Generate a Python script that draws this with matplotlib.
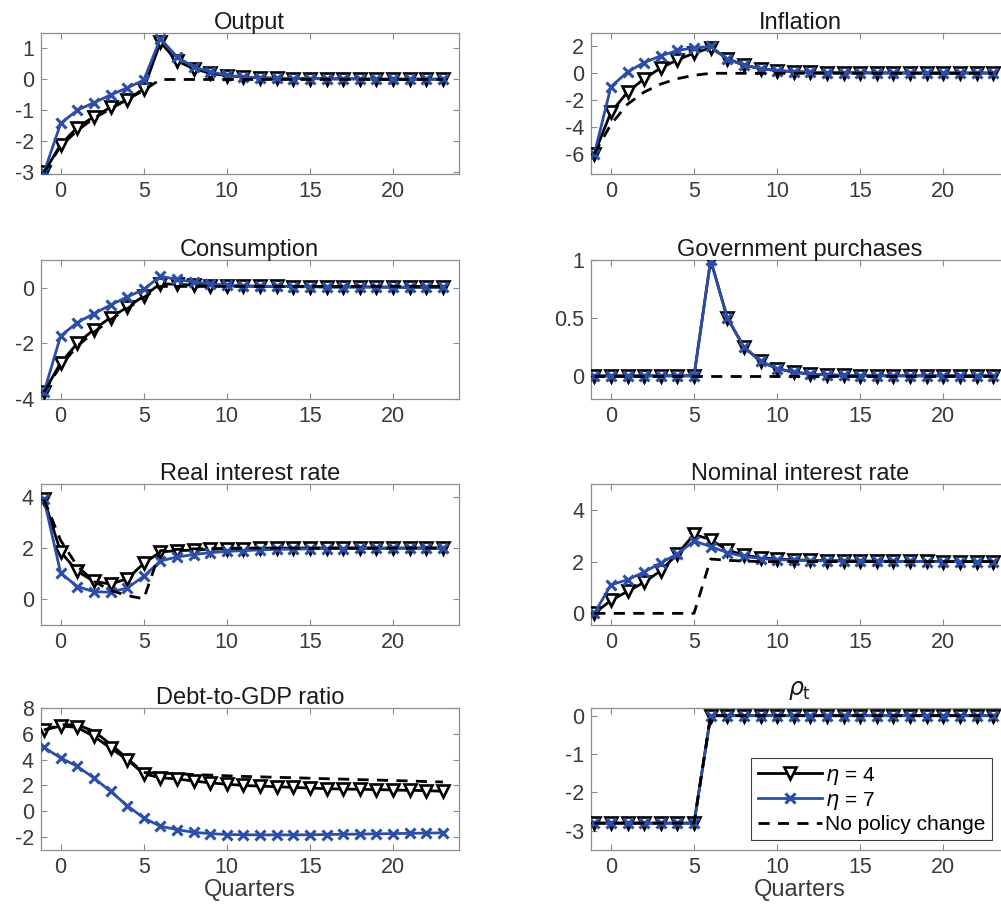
import matplotlib
matplotlib.use("Agg")
import matplotlib.pyplot as plt
from matplotlib.ticker import FormatStrFormatter

plt.rcParams['font.family'] = ['Liberation Sans', 'DejaVu Sans']
plt.rcParams['mathtext.fontset'] = 'dejavusans'

quarters = list(range(-1, 24))

# ---- data (eta=4, eta=7, no policy change) ----
output_e4 = [-3.0, -2.1, -1.55, -1.2, -0.9, -0.65, -0.3, 1.2, 0.6, 0.35, 0.2, 0.12, 0.08, 0.05, 0.04,
             0.03, 0.03, 0.02, 0.02, 0.02, 0.01, 0.01, 0.01, 0.01, 0.01]
output_e7 = [-3.0, -1.42, -0.99, -0.75, -0.5, -0.27, -0.02, 1.32, 0.73, 0.4, 0.25, 0.14, 0.08, 0.05, 0.04,
             0.03, 0.03, 0.02, 0.02, 0.02, 0.01, 0.01, 0.01, 0.01, 0.01]
output_np = [-3.0, -2.15, -1.65, -1.25, -0.95, -0.65, -0.35, 0.0, 0.0, 0.0, 0.0, 0.0, 0.0, 0.0, 0.0,
             0.0, 0.0, 0.0, 0.0, 0.0, 0.0, 0.0, 0.0, 0.0, 0.0]

infl_e4 = [-6.0, -2.9, -1.4, -0.4, 0.4, 1.0, 1.5, 1.9, 1.1, 0.6, 0.35, 0.2, 0.12, 0.08, 0.05,
           0.04, 0.03, 0.03, 0.02, 0.02, 0.02, 0.02, 0.02, 0.02, 0.02]
infl_e7 = [-6.0, -1.0, 0.1, 0.8, 1.3, 1.7, 1.9, 2.0, 1.05, 0.6, 0.35, 0.2, 0.12, 0.08, 0.05,
           0.04, 0.03, 0.03, 0.02, 0.02, 0.02, 0.02, 0.02, 0.02, 0.02]
infl_np = [-6.0, -3.8, -2.3, -1.4, -0.8, -0.4, -0.15, 0.0, 0.0, 0.0, 0.0, 0.0, 0.0, 0.0, 0.0,
           0.0, 0.0, 0.0, 0.0, 0.0, 0.0, 0.0, 0.0, 0.0, 0.0]

cons_e4 = [-3.75, -2.7, -2.0, -1.5, -1.07, -0.7, -0.3, 0.15, 0.12, 0.1, 0.08, 0.07, 0.06, 0.05, 0.05,
           0.04, 0.04, 0.03, 0.03, 0.03, 0.03, 0.02, 0.02, 0.02, 0.02]
cons_e7 = [-3.75, -1.73, -1.25, -0.93, -0.62, -0.33, -0.06, 0.42, 0.3, 0.21, 0.14, 0.1, 0.07, 0.06, 0.05,
           0.04, 0.04, 0.03, 0.03, 0.03, 0.03, 0.02, 0.02, 0.02, 0.02]
cons_np = [-3.75, -2.8, -2.1, -1.6, -1.15, -0.75, -0.35, 0.05, 0.05, 0.05, 0.05, 0.05, 0.05, 0.05, 0.05,
           0.05, 0.05, 0.05, 0.05, 0.05, 0.05, 0.05, 0.05, 0.05, 0.05]

gov_e4 = [0, 0, 0, 0, 0, 0, 0, 1.0, 0.5, 0.25, 0.125, 0.0625, 0.031, 0.016, 0.008,
          0.004, 0.002, 0.001, 0, 0, 0, 0, 0, 0, 0]
gov_e7 = [0, 0, 0, 0, 0, 0, 0, 1.0, 0.5, 0.25, 0.125, 0.0625, 0.031, 0.016, 0.008,
          0.004, 0.002, 0.001, 0, 0, 0, 0, 0, 0, 0]
gov_np = [0] * 25

real_e4 = [3.9, 1.85, 1.1, 0.7, 0.6, 0.8, 1.4, 1.85, 1.9, 1.92, 1.95, 1.97, 1.98, 1.99, 2.0,
           2.0, 2.0, 2.0, 2.0, 2.0, 2.0, 2.0, 2.0, 2.0, 2.0]
real_e7 = [3.9, 1.03, 0.5, 0.3, 0.28, 0.44, 0.9, 1.5, 1.65, 1.75, 1.82, 1.87, 1.9, 1.93, 1.95,
           1.96, 1.97, 1.98, 1.98, 1.99, 1.99, 1.99, 2.0, 2.0, 2.0]
real_np = [3.9, 2.3, 1.3, 0.7, 0.35, 0.15, 0.02, 1.9, 1.95, 1.97, 1.98, 1.99, 2.0, 2.0, 2.0,
           2.0, 2.0, 2.0, 2.0, 2.0, 2.0, 2.0, 2.0, 2.0, 2.0]

nom_e4 = [0.0, 0.5, 0.85, 1.2, 1.65, 2.3, 3.05, 2.85, 2.45, 2.25, 2.15, 2.1, 2.07, 2.05, 2.04,
          2.03, 2.02, 2.02, 2.01, 2.01, 2.01, 2.0, 2.0, 2.0, 2.0]
nom_e7 = [0.0, 1.1, 1.3, 1.6, 1.95, 2.3, 2.8, 2.58, 2.35, 2.2, 2.12, 2.08, 2.05, 2.04, 2.03,
          2.02, 2.02, 2.01, 2.01, 2.01, 2.0, 2.0, 2.0, 2.0, 2.0]
nom_np = [0.0, 0.0, 0.0, 0.0, 0.0, 0.0, 0.0, 2.1, 2.05, 2.02, 2.0, 2.0, 2.0, 2.0, 2.0,
          2.0, 2.0, 2.0, 2.0, 2.0, 2.0, 2.0, 2.0, 2.0, 2.0]

debt_e4 = [6.3, 6.6, 6.5, 5.8, 4.9, 4.0, 2.9, 2.6, 2.5, 2.35, 2.2, 2.1, 2.0, 1.95, 1.9,
           1.85, 1.8, 1.75, 1.72, 1.7, 1.68, 1.65, 1.62, 1.6, 1.55]
debt_e7 = [4.95, 4.13, 3.48, 2.58, 1.55, 0.44, -0.52, -1.16, -1.42, -1.63, -1.73, -1.8, -1.82, -1.83, -1.83,
           -1.83, -1.82, -1.8, -1.78, -1.77, -1.75, -1.73, -1.71, -1.69, -1.67]
debt_np = [6.3, 6.7, 6.7, 6.2, 5.2, 4.1, 3.0, 2.95, 2.9, 2.85, 2.8, 2.75, 2.7, 2.67, 2.63,
           2.6, 2.56, 2.52, 2.49, 2.45, 2.42, 2.38, 2.35, 2.3, 2.27]

rho_e4 = [-2.8] * 7 + [0.0] * 18
rho_e7 = [-2.8] * 7 + [0.0] * 18
rho_np = [-2.8] * 7 + [0.0] * 18

titles = ["Output", "Inflation", "Consumption", "Government purchases",
          "Real interest rate", "Nominal interest rate", "Debt-to-GDP ratio", r"$\rho_{\rm t}$"]
series = [(output_e4, output_e7, output_np), (infl_e4, infl_e7, infl_np),
          (cons_e4, cons_e7, cons_np), (gov_e4, gov_e7, gov_np),
          (real_e4, real_e7, real_np), (nom_e4, nom_e7, nom_np),
          (debt_e4, debt_e7, debt_np), (rho_e4, rho_e7, rho_np)]
ylims = [(-3.05, 1.5), (-7.5, 3), (-4, 1), (-0.2, 1.0),
         (-1, 4.5), (-0.45, 5), (-3, 8), (-3.5, 0.2)]
yticks = [[-3, -2, -1, 0, 1], [-6, -4, -2, 0, 2], [-4, -2, 0], [0, 0.5, 1],
          [0, 2, 4], [0, 2, 4], [-2, 0, 2, 4, 6, 8], [-3, -2, -1, 0]]
xticks = [0, 5, 10, 15, 20]
legend_labels = [r"$\eta$ = 4", r"$\eta$ = 7", "No policy change"]

W, H = 1001, 917
fig = plt.figure(figsize=(W / 100, H / 100), dpi=100)

col_left = [40.7, 591.0]
ax_w = 418.0
rows = [(33, 174), (260, 399), (484, 625), (708, 850)]

blue = '#2D4EA6'
spine_col = '#8c8c8c'
txt_col = '#3a3a3a'

axes = []
for i in range(8):
    r, c = divmod(i, 2)
    top, bot = rows[r]
    ax = fig.add_axes([col_left[c] / W, 1 - bot / H, ax_w / W, (bot - top) / H])
    e4, e7, npc = series[i]
    ax.plot(quarters, e4, color='black', lw=2, marker='v', ms=9, mfc='white',
            mec='black', mew=1.9, label=legend_labels[0], zorder=3)
    ax.plot(quarters, e7, color=blue, lw=2, marker='x', ms=7, mew=2.2,
            label=legend_labels[1], zorder=4)
    ax.plot(quarters, npc, color='black', lw=2, ls=(0, (4, 3)),
            label=legend_labels[2], zorder=5)
    ax.set_xlim(-1.2, 23.95)
    ax.set_ylim(*ylims[i])
    ax.set_xticks(xticks)
    ax.set_yticks(yticks[i])
    ax.yaxis.set_major_formatter(FormatStrFormatter('%g'))
    ax.tick_params(direction='in', top=True, right=True, length=4, width=0.8,
                   color=spine_col, labelsize=15.5, labelcolor=txt_col, pad=5)
    for s in ax.spines.values():
        s.set_color(spine_col)
        s.set_linewidth(0.9)
    ax.set_title(titles[i], fontsize=17, color='#1a1a1a', pad=(9 if i == 7 else 3))
    if r == 3:
        ax.set_xlabel("Quarters", fontsize=17, color=txt_col, labelpad=1)
    axes.append(ax)

leg = axes[7].legend(loc='lower right', bbox_to_anchor=(0.959, 0.07), borderaxespad=0,
                     fontsize=15, fancybox=False, framealpha=1, edgecolor='#404040',
                     handlelength=3.1, handletextpad=0.15, labelspacing=0.15,
                     borderpad=0.3)
leg.get_frame().set_linewidth(0.8)

fig.savefig("out.png", dpi=100)
